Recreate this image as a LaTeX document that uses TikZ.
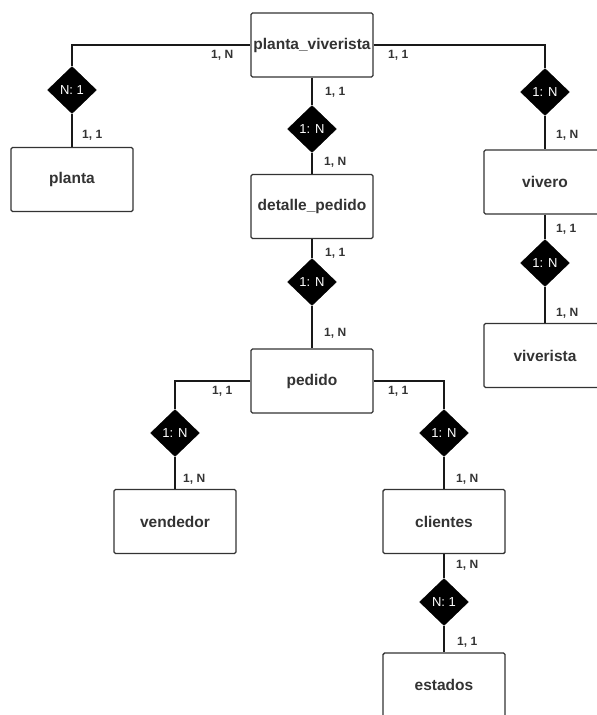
\documentclass[tikz,border=0pt]{standalone}
\usepackage{fontspec}
\setmainfont{Liberation Sans}
\usetikzlibrary{shapes.geometric}
\definecolor{ink}{HTML}{333333}
\tikzset{
  ent/.style={draw=ink, line width=1.4pt, rounded corners=1.5pt, fill=white,
    minimum width=122pt, minimum height=64pt, inner sep=0pt,
    text=ink, font=\fontsize{15.5}{18}\selectfont\bfseries},
  rel/.style={diamond, fill=black, draw=black, minimum width=49pt, minimum height=47pt,
    inner sep=0pt, text=white, font=\fontsize{13}{15}\selectfont},
  card/.style={anchor=west, inner sep=0pt, text=ink, font=\fontsize{12}{14}\selectfont\bfseries},
  link/.style={draw=black!90, line width=2pt}
}
\begin{document}
\begin{tikzpicture}[x=1pt,y=-1pt]
\useasboundingbox (0,0) rectangle (597,715);
% connectors first (under boxes)
\coordinate (c0) at (0,0);
% entities
\node[ent] (pv) at (312,45) {planta\_viverista};
\node[ent] (planta) at (72,179.5) {planta};
\node[ent] (detalle) at (312,206.5) {detalle\_pedido};
\node[ent] (vivero) at (545,182) {vivero};
\node[ent] (pedido) at (312,381) {pedido};
\node[ent] (viverista) at (545,355.5) {viverista};
\node[ent] (vendedor) at (175,521.5) {vendedor};
\node[ent] (clientes) at (444,521.5) {clientes};
\node[ent] (estados) at (444,685) {estados};
% relationships
\node[rel] (r1) at (72,90) {N: 1};
\node[rel] (r2) at (545,92) {1: N};
\node[rel] (r3) at (312,129) {1: N};
\node[rel] (r4) at (312,282) {1: N};
\node[rel] (r5) at (545,263) {1: N};
\node[rel] (r6) at (175,433) {1: N};
\node[rel] (r7) at (444,433) {1: N};
\node[rel] (r8) at (444,602) {N: 1};
% links
\draw[link] (pv.west) -| (r1.north);
\draw[link] (r1.south) -- (planta.north);
\draw[link] (pv.east) -| (r2.north);
\draw[link] (r2.south) -- (vivero.north);
\draw[link] (pv.south) -- (r3.north);
\draw[link] (r3.south) -- (detalle.north);
\draw[link] (detalle.south) -- (r4.north);
\draw[link] (r4.south) -- (pedido.north);
\draw[link] (vivero.south) -- (r5.north);
\draw[link] (r5.south) -- (viverista.north);
\draw[link] (pedido.west) -| (r6.north);
\draw[link] (r6.south) -- (vendedor.north);
\draw[link] (pedido.east) -| (r7.north);
\draw[link] (r7.south) -- (clientes.north);
\draw[link] (clientes.south) -- (r8.north);
\draw[link] (r8.south) -- (estados.north);
% cardinalities
\node[card] at (211,55) {1, N};
\node[card] at (82,135) {1, 1};
\node[card] at (388,55) {1, 1};
\node[card] at (556,135) {1, N};
\node[card] at (325,92) {1, 1};
\node[card] at (324,162) {1, N};
\node[card] at (325,253) {1, 1};
\node[card] at (324,333) {1, N};
\node[card] at (556,229) {1, 1};
\node[card] at (556,313) {1, N};
\node[card] at (212,391) {1, 1};
\node[card] at (388,391) {1, 1};
\node[card] at (183,479) {1, N};
\node[card] at (456,479) {1, N};
\node[card] at (456,565) {1, N};
\node[card] at (457,642) {1, 1};
\end{tikzpicture}
\end{document}
